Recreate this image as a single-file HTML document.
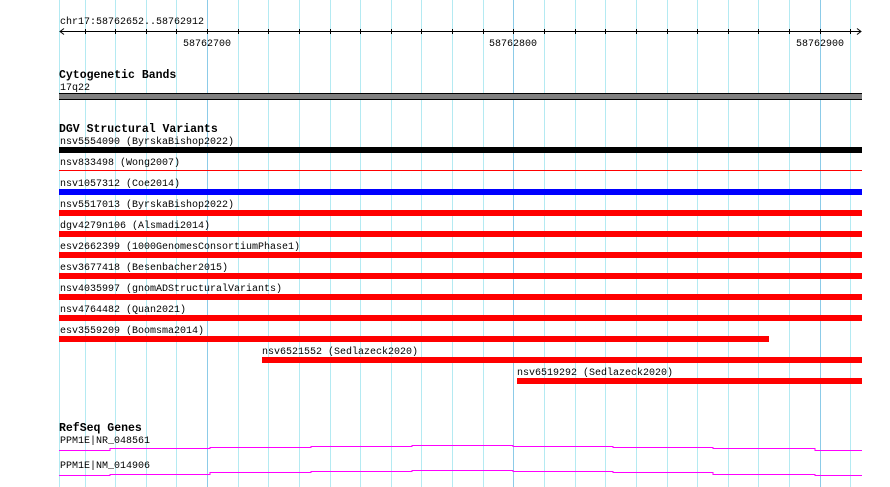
<!DOCTYPE html>
<html><head><meta charset="utf-8"><style>
html,body{margin:0;padding:0;background:#fff;}
svg{display:block;}
text{font-family:"Liberation Mono","DejaVu Sans Mono",monospace;font-size:10px;fill:#000;}
.h{font-weight:bold;font-size:11.5px;}
</style></head><body>
<svg width="890" height="487" xmlns="http://www.w3.org/2000/svg">
<g id="grid" stroke-width="1">
<line x1="59.5" y1="0" x2="59.5" y2="487" stroke="#b4eaf2"/>
<line x1="85.5" y1="0" x2="85.5" y2="487" stroke="#b4eaf2"/>
<line x1="115.5" y1="0" x2="115.5" y2="487" stroke="#b4eaf2"/>
<line x1="146.5" y1="0" x2="146.5" y2="487" stroke="#b4eaf2"/>
<line x1="176.5" y1="0" x2="176.5" y2="487" stroke="#b4eaf2"/>
<line x1="207.5" y1="0" x2="207.5" y2="487" stroke="#8ccbe8"/>
<line x1="238.5" y1="0" x2="238.5" y2="487" stroke="#b4eaf2"/>
<line x1="268.5" y1="0" x2="268.5" y2="487" stroke="#b4eaf2"/>
<line x1="299.5" y1="0" x2="299.5" y2="487" stroke="#b4eaf2"/>
<line x1="330.5" y1="0" x2="330.5" y2="487" stroke="#b4eaf2"/>
<line x1="360.5" y1="0" x2="360.5" y2="487" stroke="#b4eaf2"/>
<line x1="391.5" y1="0" x2="391.5" y2="487" stroke="#b4eaf2"/>
<line x1="421.5" y1="0" x2="421.5" y2="487" stroke="#b4eaf2"/>
<line x1="452.5" y1="0" x2="452.5" y2="487" stroke="#b4eaf2"/>
<line x1="483.5" y1="0" x2="483.5" y2="487" stroke="#b4eaf2"/>
<line x1="513.5" y1="0" x2="513.5" y2="487" stroke="#8ccbe8"/>
<line x1="544.5" y1="0" x2="544.5" y2="487" stroke="#b4eaf2"/>
<line x1="575.5" y1="0" x2="575.5" y2="487" stroke="#b4eaf2"/>
<line x1="605.5" y1="0" x2="605.5" y2="487" stroke="#b4eaf2"/>
<line x1="636.5" y1="0" x2="636.5" y2="487" stroke="#b4eaf2"/>
<line x1="667.5" y1="0" x2="667.5" y2="487" stroke="#b4eaf2"/>
<line x1="697.5" y1="0" x2="697.5" y2="487" stroke="#b4eaf2"/>
<line x1="728.5" y1="0" x2="728.5" y2="487" stroke="#b4eaf2"/>
<line x1="758.5" y1="0" x2="758.5" y2="487" stroke="#b4eaf2"/>
<line x1="789.5" y1="0" x2="789.5" y2="487" stroke="#b4eaf2"/>
<line x1="820.5" y1="0" x2="820.5" y2="487" stroke="#8ccbe8"/>
<line x1="850.5" y1="0" x2="850.5" y2="487" stroke="#b4eaf2"/>
</g>
<text x="60" y="24">chr17:58762652..58762912</text>
<line x1="60" y1="31.5" x2="861" y2="31.5" stroke="#000"/>
<path d="M64 28.5 L60 31.5 L64 34.5 M857 28.5 L861 31.5 L857 34.5" stroke="#000" fill="none"/>
<g stroke="#000">
<line x1="85.5" y1="29" x2="85.5" y2="34"/><line x1="115.5" y1="29" x2="115.5" y2="34"/><line x1="146.5" y1="29" x2="146.5" y2="34"/><line x1="176.5" y1="29" x2="176.5" y2="34"/><line x1="207.5" y1="29" x2="207.5" y2="34"/><line x1="238.5" y1="29" x2="238.5" y2="34"/><line x1="268.5" y1="29" x2="268.5" y2="34"/><line x1="299.5" y1="29" x2="299.5" y2="34"/><line x1="330.5" y1="29" x2="330.5" y2="34"/><line x1="360.5" y1="29" x2="360.5" y2="34"/><line x1="391.5" y1="29" x2="391.5" y2="34"/><line x1="421.5" y1="29" x2="421.5" y2="34"/><line x1="452.5" y1="29" x2="452.5" y2="34"/><line x1="483.5" y1="29" x2="483.5" y2="34"/><line x1="513.5" y1="29" x2="513.5" y2="34"/><line x1="544.5" y1="29" x2="544.5" y2="34"/><line x1="575.5" y1="29" x2="575.5" y2="34"/><line x1="605.5" y1="29" x2="605.5" y2="34"/><line x1="636.5" y1="29" x2="636.5" y2="34"/><line x1="667.5" y1="29" x2="667.5" y2="34"/><line x1="697.5" y1="29" x2="697.5" y2="34"/><line x1="728.5" y1="29" x2="728.5" y2="34"/><line x1="758.5" y1="29" x2="758.5" y2="34"/><line x1="789.5" y1="29" x2="789.5" y2="34"/><line x1="820.5" y1="29" x2="820.5" y2="34"/><line x1="850.5" y1="29" x2="850.5" y2="34"/>
</g>
<text x="207" y="46" text-anchor="middle">58762700</text>
<text x="513" y="46" text-anchor="middle">58762800</text>
<text x="820" y="46" text-anchor="middle">58762900</text>

<text class="h" x="59" y="78">Cytogenetic Bands</text>
<text x="60" y="90">17q22</text>
<rect x="59" y="93" width="803" height="7" fill="#808080"/>
<rect x="59" y="93" width="803" height="1" fill="#000"/>
<rect x="59" y="99" width="803" height="1" fill="#000"/>

<text class="h" x="59" y="132">DGV Structural Variants</text>
<text x="60" y="144">nsv5554090 (ByrskaBishop2022)</text>
<rect x="59" y="147" width="803" height="6" fill="#000"/>
<text x="60" y="165">nsv833498 (Wong2007)</text>
<rect x="59" y="170" width="803" height="1" fill="#f00"/>
<text x="60" y="186">nsv1057312 (Coe2014)</text>
<rect x="59" y="189" width="803" height="6" fill="#00f"/>
<text x="60" y="207">nsv5517013 (ByrskaBishop2022)</text>
<rect x="59" y="210" width="803" height="6" fill="#f00"/>
<text x="60" y="228">dgv4279n106 (Alsmadi2014)</text>
<rect x="59" y="231" width="803" height="6" fill="#f00"/>
<text x="60" y="249">esv2662399 (1000GenomesConsortiumPhase1)</text>
<rect x="59" y="252" width="803" height="6" fill="#f00"/>
<text x="60" y="270">esv3677418 (Besenbacher2015)</text>
<rect x="59" y="273" width="803" height="6" fill="#f00"/>
<text x="60" y="291">nsv4035997 (gnomADStructuralVariants)</text>
<rect x="59" y="294" width="803" height="6" fill="#f00"/>
<text x="60" y="312">nsv4764482 (Quan2021)</text>
<rect x="59" y="315" width="803" height="6" fill="#f00"/>
<text x="60" y="333">esv3559209 (Boomsma2014)</text>
<rect x="59" y="336" width="710" height="6" fill="#f00"/>
<text x="262" y="354">nsv6521552 (Sedlazeck2020)</text>
<rect x="262" y="357" width="600" height="6" fill="#f00"/>
<text x="517" y="375">nsv6519292 (Sedlazeck2020)</text>
<rect x="517" y="378" width="345" height="6" fill="#f00"/>

<text class="h" x="59" y="431">RefSeq Genes</text>
<text x="60" y="443">PPM1E|NR_048561</text>
<path d="M59 450.5 H110 V448.5 H210 V447.5 H311 V446.5 H412 V445.5 H513 V446.5 H613 V447.5 H713 V448.5 H815 V450.5 H862" stroke="#f0f" fill="none"/>
<text x="60" y="468">PPM1E|NM_014906</text>
<path d="M59 475.5 H110 V474.5 H210 V472.5 H311 V471.5 H412 V470.5 H513 V471.5 H613 V472.5 H713 V474.5 H815 V475.5 H862" stroke="#f0f" fill="none"/>
</svg>
</body></html>
